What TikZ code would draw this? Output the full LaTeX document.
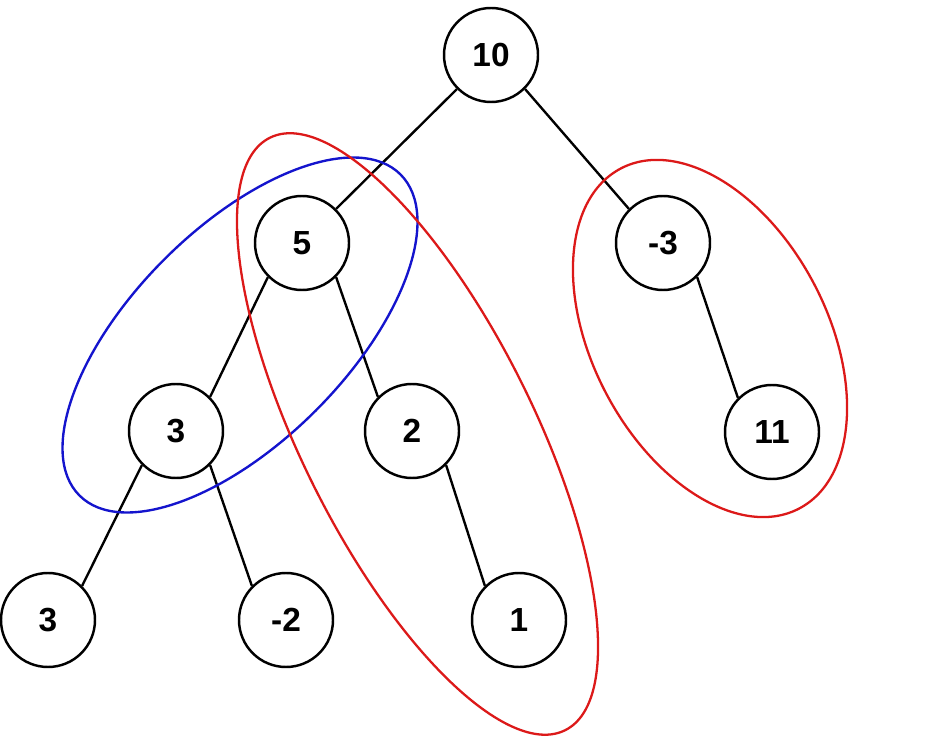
\documentclass[tikz,border=0pt]{standalone}
\usepackage{fontspec}
\setmainfont{Liberation Sans}
\usepackage{tikz}
\usetikzlibrary{positioning, calc}
\usepackage{xcolor}
\definecolor{loopblue}{RGB}{20, 20, 205}
\definecolor{loopred}{RGB}{220, 25, 25}
\tikzstyle{treenode} = [circle, minimum size=1.88cm, inner sep=0pt, draw=black,
                        line width=1.4pt, text centered, font=\fontsize{19}{19}\selectfont\bfseries]
\tikzstyle{link}     = [line width=1.35pt, black]
\tikzstyle{bluepath} = [line width=1.35pt, draw=loopblue]
\tikzstyle{redpath}  = [line width=1.3pt, draw=loopred]

\begin{document}
\begin{tikzpicture}[on grid]
  \useasboundingbox (0,0) rectangle (18.6,-15.08);

  % Tree
  \node (n10)  [treenode] at (9.82,-1.10)          {10};
  \node (n5)   [treenode, below left=3.76cm and 3.78cm of n10]  {5};
  \node (nm3)  [treenode, below right=3.76cm and 3.44cm of n10] {-3};
  \node (n3a)  [treenode, below left=3.76cm and 2.52cm of n5]   {3};
  \node (n2)   [treenode, below right=3.76cm and 2.20cm of n5]  {2};
  \node (n11)  [treenode, below right=3.78cm and 2.18cm of nm3] {11};
  \node (n3b)  [treenode, below left=3.78cm and 2.56cm of n3a]  {3};
  \node (nm2)  [treenode, below right=3.78cm and 2.20cm of n3a] {-2};
  \node (n1)   [treenode, below right=3.78cm and 2.14cm of n2]  {1};

  \draw [link] (n10.south west) -- (n5.north east);
  \draw [link] (n10.south east) -- (nm3.north west);
  \draw [link] (n5.south west)  -- (n3a.north east);
  \draw [link] (n5.south east)  -- (n2.north west);
  \draw [link] (nm3.south east) -- (n11.north west);
  \draw [link] (n3a.south west) -- (n3b.north east);
  \draw [link] (n3a.south east) -- (nm2.north west);
  \draw [link] (n2.south east)  -- (n1.north west);

  % Path loops
  \coordinate (cblue)  at (4.80,-6.70);
  \coordinate (cred)   at (8.35,-8.68);
  \coordinate (cright) at (14.20,-6.77);
  \draw [bluepath, rotate around={45:(cblue)}]    (cblue)  ellipse (4.54cm and 2.14cm);
  \draw [redpath, rotate around={-63.5:(cred)}]   (cred)   ellipse (6.62cm and 2.32cm);
  \draw [redpath, rotate around={-62.3:(cright)}] (cright) ellipse (3.84cm and 2.35cm);
\end{tikzpicture}
\end{document}
